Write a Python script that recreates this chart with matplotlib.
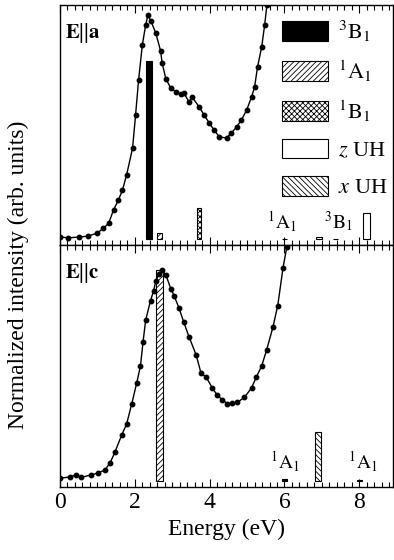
import matplotlib.pyplot as plt
from matplotlib.patches import Patch
from matplotlib.ticker import MultipleLocator

plt.rcParams['font.family'] = ['Liberation Serif', 'DejaVu Serif']
plt.rcParams['mathtext.fontset'] = 'stix'
plt.rcParams['hatch.linewidth'] = 0.6

# E||a spectrum
ea_x = [0.0, 0.22, 0.5, 0.75, 1.0, 1.16, 1.3, 1.43, 1.56, 1.67, 1.78, 1.94, 2.02, 2.1,
        2.2, 2.29, 2.35, 2.43, 2.56, 2.69, 2.73, 2.83, 2.96, 3.1, 3.23, 3.31, 3.45, 3.53,
        3.72, 3.85, 3.99, 4.12, 4.26, 4.45, 4.58, 4.72, 4.85, 4.99, 5.12, 5.2, 5.28,
        5.39, 5.47, 5.53, 5.65]
ea_y = [0.033, 0.03, 0.033, 0.037, 0.05, 0.07, 0.09, 0.146, 0.187, 0.229, 0.292, 0.404,
        0.542, 0.687, 0.833, 0.917, 0.958, 0.933, 0.883, 0.808, 0.758, 0.692, 0.654,
        0.638, 0.629, 0.633, 0.596, 0.617, 0.575, 0.542, 0.508, 0.479, 0.45, 0.446,
        0.467, 0.492, 0.521, 0.563, 0.617, 0.658, 0.742, 0.825, 0.917, 1.0, 1.2]

# E||c spectrum
ec_x = [0.0, 0.27, 0.43, 0.57, 0.84, 1.02, 1.2, 1.34, 1.47, 1.65, 1.78, 1.92, 2.05, 2.15,
        2.22, 2.29, 2.42, 2.5, 2.56, 2.64, 2.72, 2.83, 2.96, 3.05, 3.18, 3.31, 3.45,
        3.64, 3.77, 3.9, 4.07, 4.2, 4.34, 4.47, 4.61, 4.74, 4.93, 5.12, 5.25, 5.39,
        5.52, 5.69, 5.82, 5.96, 6.06, 6.15]
ec_y = [0.037, 0.041, 0.05, 0.04, 0.05, 0.058, 0.07, 0.1, 0.145, 0.215, 0.26, 0.345,
        0.43, 0.5, 0.6, 0.69, 0.77, 0.81, 0.85, 0.88, 0.897, 0.876, 0.82, 0.79, 0.74,
        0.68, 0.62, 0.545, 0.47, 0.455, 0.41, 0.38, 0.36, 0.345, 0.347, 0.35, 0.37,
        0.41, 0.455, 0.5, 0.565, 0.66, 0.75, 0.905, 0.99, 1.15]

# transition bars: energy, width, top, style
base = 0.025
a_pos = [2.37, 2.65, 3.72, 6.0, 6.92, 7.37, 8.2]
a_wid = [0.16, 0.13, 0.10, 0.13, 0.16, 0.13, 0.18]
a_top = [0.767, 0.05, 0.154, 0.027, 0.035, 0.027, 0.133]
a_sty = ['3B1', '1A1', '1B1', '3B1', 'zUH', '3B1', 'zUH']

c_pos = [2.66, 6.0, 6.9, 8.0]
c_wid = [0.19, 0.13, 0.16, 0.13]
c_top = [0.897, 0.035, 0.227, 0.027]
c_sty = ['1A1', '3B1', 'xUH', '3B1']

# small state labels next to the weak transitions
a_lab_x = [5.94, 7.43]
a_lab = [r'$^{1}\mathrm{A}_{1}$', r'$^{3}\mathrm{B}_{1}$']
c_lab_x = [6.02, 8.1]
c_lab = [r'$^{1}\mathrm{A}_{1}$', r'$^{1}\mathrm{A}_{1}$']

styles = {
    '3B1': dict(facecolor='black', edgecolor='black', hatch=None),
    '1A1': dict(facecolor='white', edgecolor='black', hatch='//////'),
    '1B1': dict(facecolor='white', edgecolor='black', hatch='xxxxxx'),
    'zUH': dict(facecolor='white', edgecolor='black', hatch=None),
    'xUH': dict(facecolor='white', edgecolor='black', hatch='\\\\\\\\\\\\'),
}
leg_keys = ['3B1', '1A1', '1B1', 'zUH', 'xUH']
leg_labels = [r'$^{3}\mathrm{B}_{1}$', r'$^{1}\mathrm{A}_{1}$', r'$^{1}\mathrm{B}_{1}$',
              r'$z$ UH', r'$x$ UH']

fig = plt.figure(figsize=(3.94, 5.6), dpi=100)
W, H = 394, 560
left, right = 60 / W, 393 / W
ax1 = fig.add_axes([left, 1 - 245 / H, right - left, 240 / H])
ax2 = fig.add_axes([left, 1 - 487 / H, right - left, 242 / H])


def draw(ax, xs, ys, pos, wid, top, sty):
    for p, w, t, s in zip(pos, wid, top, sty):
        ax.bar(p, t - base, width=w, bottom=base, linewidth=0.8, zorder=2, **styles[s])
    ax.plot(xs, ys, color='black', lw=1.0, marker='o', ms=3.2, zorder=3)
    ax.set_xlim(0, 8.9)
    ax.set_ylim(0, 1)
    ax.set_yticks([])
    ax.xaxis.set_major_locator(MultipleLocator(2))
    ax.xaxis.set_minor_locator(MultipleLocator(0.2))
    ax.tick_params(axis='x', which='both', direction='in', top=True, bottom=True,
                   width=0.8, labelsize=17)
    ax.tick_params(axis='x', which='major', length=6)
    ax.tick_params(axis='x', which='minor', length=3.5)
    for sp in ax.spines.values():
        sp.set_linewidth(1.0)


draw(ax1, ea_x, ea_y, a_pos, a_wid, a_top, a_sty)
draw(ax2, ec_x, ec_y, c_pos, c_wid, c_top, c_sty)
ax1.tick_params(labelbottom=False)

ax1.text(0.015, 0.883, r'$\mathbf{E}$||$\mathbf{a}$', transform=ax1.transAxes,
         fontsize=15, fontweight='bold', va='center')
ax2.text(0.015, 0.883, r'$\mathbf{E}$||$\mathbf{c}$', transform=ax2.transAxes,
         fontsize=15, fontweight='bold', va='center')

small = dict(fontsize=14, ha='center', va='bottom')
for x, s in zip(a_lab_x, a_lab):
    ax1.text(x, 0.045, s, **small)
for x, s in zip(c_lab_x, c_lab):
    ax2.text(x, 0.055, s, **small)

handles = [Patch(linewidth=0.8, **styles[k]) for k in leg_keys]
ax1.legend(handles, leg_labels, loc='upper right', frameon=False, fontsize=16,
           handlelength=2.1, handleheight=1.0, handletextpad=0.45, labelspacing=0.66,
           borderaxespad=0.0, borderpad=0.6, bbox_to_anchor=(1.025, 1.0))

ax2.set_xlabel('Energy (eV)', fontsize=17)
fig.text(18 / W, 1 - 275 / H, 'Normalized intensity (arb. units)', rotation=90,
         fontsize=17, ha='center', va='center')

fig.savefig('out.png', dpi=100)
